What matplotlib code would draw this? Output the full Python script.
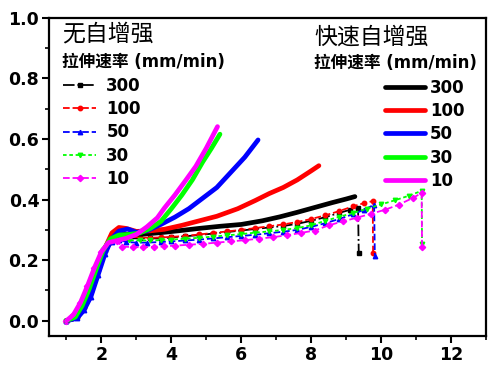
import matplotlib
matplotlib.use('Agg')
import matplotlib.pyplot as plt
from matplotlib.ticker import MultipleLocator

plt.rcParams['font.family'] = ['DejaVu Sans', 'Noto Sans CJK SC']

rates = ['300', '100', '50', '30', '10']
colors = ['black', 'red', 'blue', '#00ff00', 'magenta']

# 快速自增强 (solid lines)
fast_x = [
    [1.0, 1.3, 1.5, 1.7, 1.9, 2.1, 2.3, 2.5, 2.8, 3.2, 3.7, 4.2, 4.8, 5.4, 6.0, 6.6, 7.1, 7.6, 8.1, 8.6, 9.0, 9.25],
    [1.0, 1.3, 1.5, 1.7, 1.9, 2.1, 2.3, 2.5, 2.7, 3.0, 3.4, 3.8, 4.3, 4.8, 5.3, 5.9, 6.4, 6.8, 7.2, 7.6, 8.0, 8.22],
    [1.0, 1.3, 1.5, 1.7, 1.9, 2.1, 2.3, 2.5, 2.75, 3.0, 3.3, 3.7, 4.1, 4.5, 4.9, 5.3, 5.7, 6.1, 6.48],
    [1.0, 1.25, 1.45, 1.65, 1.85, 2.05, 2.25, 2.5, 2.8, 3.1, 3.4, 3.7, 4.0, 4.3, 4.6, 4.9, 5.15, 5.39],
    [1.0, 1.2, 1.4, 1.6, 1.8, 2.0, 2.2, 2.45, 2.7, 3.0, 3.3, 3.6, 3.8, 4.1, 4.42, 4.7, 5.0, 5.32],
]
fast_y = [
    [0.0, 0.01, 0.04, 0.09, 0.16, 0.23, 0.27, 0.285, 0.285, 0.286, 0.291, 0.297, 0.305, 0.312, 0.318, 0.33, 0.343, 0.358, 0.374, 0.39, 0.402, 0.41],
    [0.0, 0.01, 0.045, 0.1, 0.17, 0.24, 0.29, 0.308, 0.305, 0.295, 0.297, 0.302, 0.315, 0.33, 0.345, 0.37, 0.397, 0.42, 0.44, 0.465, 0.495, 0.512],
    [0.0, 0.008, 0.035, 0.08, 0.15, 0.22, 0.272, 0.296, 0.303, 0.292, 0.297, 0.318, 0.342, 0.37, 0.405, 0.44, 0.49, 0.54, 0.597],
    [0.0, 0.012, 0.05, 0.105, 0.17, 0.232, 0.27, 0.283, 0.285, 0.29, 0.305, 0.328, 0.37, 0.415, 0.465, 0.525, 0.57, 0.616],
    [0.0, 0.02, 0.06, 0.115, 0.175, 0.228, 0.258, 0.265, 0.272, 0.285, 0.31, 0.34, 0.372, 0.415, 0.465, 0.51, 0.57, 0.641],
]

# 无自增强 (dashed lines with markers)
plain_x = [
    [1.0, 1.3, 1.5, 1.7, 1.9, 2.1, 2.3, 2.5, 2.8, 3.1, 3.4, 3.7, 4.0, 4.4, 4.8, 5.2, 5.6, 6.0, 6.4, 6.8, 7.2, 7.6, 8.0, 8.4, 8.8, 9.1, 9.34, 9.36],
    [1.0, 1.3, 1.5, 1.7, 1.9, 2.1, 2.3, 2.5, 2.8, 3.1, 3.4, 3.7, 4.0, 4.4, 4.8, 5.2, 5.6, 6.0, 6.4, 6.8, 7.2, 7.6, 8.0, 8.4, 8.8, 9.2, 9.5, 9.76, 9.77],
    [1.0, 1.3, 1.5, 1.7, 1.9, 2.1, 2.3, 2.5, 2.7, 3.0, 3.3, 3.7, 4.0, 4.4, 4.8, 5.2, 5.6, 6.0, 6.4, 6.8, 7.2, 7.6, 8.0, 8.4, 8.8, 9.2, 9.5, 9.8, 9.82],
    [1.0, 1.25, 1.45, 1.65, 1.85, 2.05, 2.25, 2.5, 2.8, 3.1, 3.4, 3.7, 4.0, 4.4, 4.8, 5.2, 5.6, 6.0, 6.4, 6.8, 7.2, 7.6, 8.0, 8.4, 8.8, 9.2, 9.6, 10.0, 10.4, 10.8, 11.16, 11.17],
    [1.0, 1.2, 1.4, 1.6, 1.8, 2.0, 2.2, 2.45, 2.6, 2.9, 3.2, 3.5, 3.8, 4.1, 4.5, 4.9, 5.3, 5.7, 6.1, 6.5, 6.9, 7.3, 7.7, 8.1, 8.5, 8.9, 9.3, 9.7, 10.1, 10.5, 10.9, 11.16, 11.17],
]
plain_y = [
    [0.0, 0.012, 0.045, 0.1, 0.17, 0.235, 0.27, 0.28, 0.272, 0.272, 0.272, 0.272, 0.275, 0.279, 0.283, 0.288, 0.293, 0.298, 0.303, 0.308, 0.313, 0.32, 0.33, 0.342, 0.356, 0.366, 0.372, 0.225],
    [0.0, 0.012, 0.045, 0.1, 0.175, 0.243, 0.285, 0.29, 0.278, 0.275, 0.274, 0.275, 0.277, 0.28, 0.285, 0.29, 0.295, 0.3, 0.306, 0.312, 0.318, 0.326, 0.336, 0.348, 0.362, 0.378, 0.388, 0.395, 0.225],
    [0.0, 0.008, 0.035, 0.08, 0.15, 0.22, 0.26, 0.268, 0.26, 0.258, 0.258, 0.26, 0.262, 0.265, 0.268, 0.272, 0.276, 0.28, 0.284, 0.289, 0.294, 0.3, 0.31, 0.322, 0.336, 0.352, 0.366, 0.383, 0.215],
    [0.0, 0.012, 0.05, 0.105, 0.17, 0.232, 0.262, 0.27, 0.266, 0.265, 0.265, 0.266, 0.268, 0.271, 0.274, 0.278, 0.282, 0.286, 0.291, 0.295, 0.3, 0.306, 0.315, 0.33, 0.343, 0.356, 0.37, 0.384, 0.398, 0.413, 0.429, 0.255],
    [0.0, 0.02, 0.06, 0.115, 0.175, 0.228, 0.255, 0.262, 0.245, 0.243, 0.243, 0.244, 0.246, 0.248, 0.251, 0.254, 0.258, 0.262, 0.266, 0.271, 0.276, 0.282, 0.29, 0.298, 0.315, 0.328, 0.34, 0.353, 0.366, 0.383, 0.405, 0.422, 0.245],
]
plain_styles = ['-.', '--', '--', (0, (2, 1.5)), '--']
plain_markers = ['s', 'o', '^', 'v', 'D']

fig = plt.figure(figsize=(5, 3.72), dpi=100)
ax = fig.add_axes([0.098, 0.097, 0.874, 0.855])

plain_lines = []
for i in range(5):
    l, = ax.plot(plain_x[i], plain_y[i], ls=plain_styles[i], color=colors[i], lw=1.3,
                 marker=plain_markers[i], ms=3.2, mec=colors[i], mfc=colors[i])
    plain_lines.append(l)

fast_lines = []
for i in range(5):
    l, = ax.plot(fast_x[i], fast_y[i], '-', color=colors[i], lw=3.4, solid_capstyle='round')
    fast_lines.append(l)

ax.set_xlim(0.5, 13)
ax.set_ylim(-0.05, 1.0)
ax.xaxis.set_major_locator(MultipleLocator(2))
ax.xaxis.set_minor_locator(MultipleLocator(1))
ax.yaxis.set_major_locator(MultipleLocator(0.2))
ax.yaxis.set_minor_locator(MultipleLocator(0.1))
ax.xaxis.set_major_formatter(plt.FuncFormatter(lambda v, p: '%d' % v))
ax.yaxis.set_major_formatter(plt.FuncFormatter(lambda v, p: '%.1f' % v))
ax.tick_params(which='major', direction='out', length=5, width=1.5, labelsize=12.5, pad=2)
ax.tick_params(which='minor', direction='out', length=3, width=1.2)
for lab in ax.get_xticklabels() + ax.get_yticklabels():
    lab.set_fontweight('bold')
for s in ax.spines.values():
    s.set_linewidth(1.6)

ax.text(0.030, 0.95, '无自增强', transform=ax.transAxes, fontsize=16.5, va='center', ha='left')
ax.text(0.030, 0.862, '拉伸速率 (mm/min)', transform=ax.transAxes, fontsize=12, fontweight='bold',
        va='center', ha='left')
ax.text(0.607, 0.94, '快速自增强', transform=ax.transAxes, fontsize=16.5, va='center', ha='left')
ax.text(0.607, 0.858, '拉伸速率 (mm/min)', transform=ax.transAxes, fontsize=12, fontweight='bold',
        va='center', ha='left')

leg1 = ax.legend(plain_lines, rates, loc='upper left', bbox_to_anchor=(0.032, 0.815),
                 frameon=False, borderpad=0, borderaxespad=0, numpoints=1,
                 handlelength=2.0, handletextpad=0.6, labelspacing=0.32,
                 prop={'size': 12, 'weight': 'bold'})
ax.add_artist(leg1)
leg2 = ax.legend(fast_lines, rates, loc='upper left', bbox_to_anchor=(0.769, 0.809),
                 frameon=False, borderpad=0, borderaxespad=0,
                 handlelength=2.4, handletextpad=0.3, labelspacing=0.32,
                 prop={'size': 12, 'weight': 'bold'})

fig.savefig('out.png', dpi=100)
